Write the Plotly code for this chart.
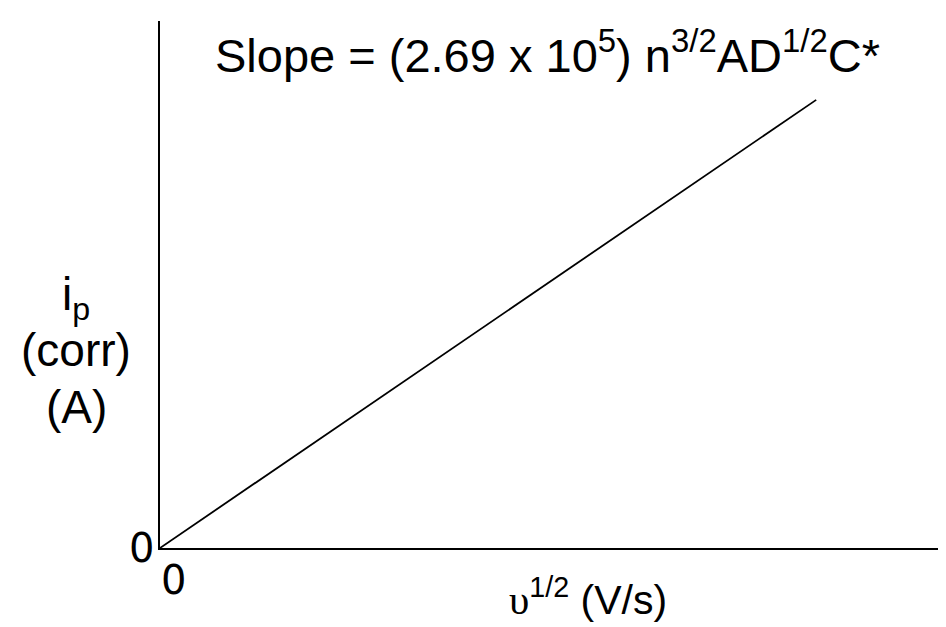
import plotly.graph_objects as go

# data
sqrt_scan_rate = [0.0, 1.0]
peak_current = [0.0, 1.0]
x_range = [0.0, 1.21]
y_range = [0.0, 1.176]
zero_tick = "0"
slope_text = "Slope = (2.69 x 10<sup>5</sup>) n<sup>3/2</sup>AD<sup>1/2</sup>C*"
y_label_lines = ["i<sub>p</sub>", "(corr)", "(A)"]
x_label = "<span style=\"font-family:'Liberation Serif', 'DejaVu Serif', serif\">υ</span><sup>1/2</sup> (V/s)"

W, H = 946, 627
L, R, T, B = 152, 0, 13, 87
PW, PH = W - L - R, H - T - B
FONT = "Liberation Sans, Arial, sans-serif"

def px(x):
    return (x - L) / PW

def py(y):
    return (H - B - y) / PH

fig = go.Figure()
fig.add_trace(go.Scatter(x=sqrt_scan_rate, y=peak_current, mode="lines",
                         line=dict(color="black", width=1.8), hoverinfo="skip",
                         showlegend=False))

fig.update_layout(
    width=W, height=H,
    margin=dict(l=L, r=R, t=T, b=B, pad=0),
    paper_bgcolor="white", plot_bgcolor="white",
    font=dict(family=FONT, color="black"),
    xaxis=dict(range=x_range, showline=True, linecolor="black", linewidth=2,
               showgrid=False, zeroline=False, showticklabels=False, ticks=""),
    yaxis=dict(range=y_range, showline=True, linecolor="black", linewidth=2,
               showgrid=False, zeroline=False, showticklabels=False, ticks=""),
    showlegend=False,
)

def add_text(text, x, y, size, xanchor="center", family=FONT):
    fig.add_annotation(text=text, x=px(x), y=py(y), xref="paper", yref="paper",
                       xanchor=xanchor, yanchor="middle", showarrow=False,
                       font=dict(size=size, color="black", family=family))

add_text(slope_text, 205, 44, 47, xanchor="left")
for line, yc in zip(y_label_lines, [289, 342, 399]):
    add_text(line, 68, yc, 46)
add_text(x_label, 580, 589, 41)
add_text(zero_tick, 133, 540, 40, family="DejaVu Sans")
add_text(zero_tick, 165, 572, 40, family="DejaVu Sans")

fig.write_html("out.html")
